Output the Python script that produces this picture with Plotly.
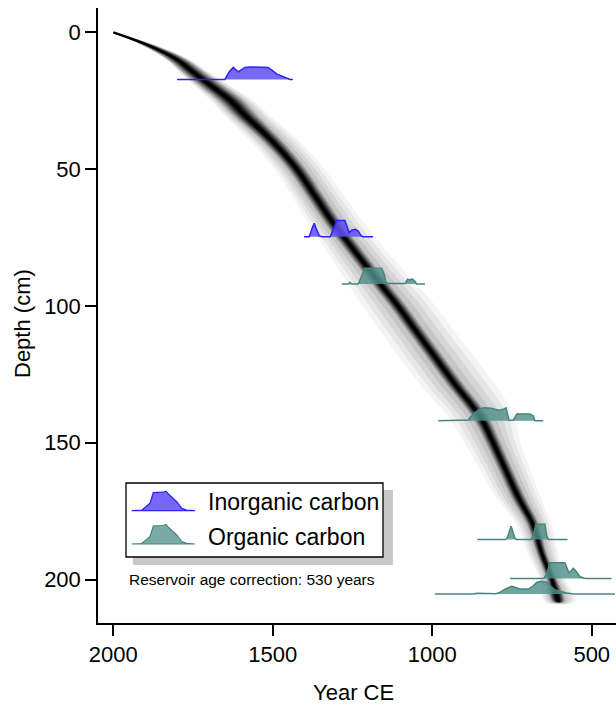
import plotly.graph_objects as go

# ---------------- data ----------------
x_tick_vals = [2000, 1500, 1000, 500]
x_tick_text = ["2000", "1500", "1000", "500"]
y_tick_vals = [0, 50, 100, 150, 200]
y_tick_text = ["0", "50", "100", "150", "200"]

# age-depth model: median age, dark-core spread and full (light halo) spread, in years
model_depth = [0, 5, 10, 15, 20, 25, 30, 40, 50, 60, 70, 80, 90, 100, 110, 120,
               130, 140, 150, 160, 170, 180, 190, 200, 208]
model_median = [2000, 1885, 1800, 1745, 1688, 1632, 1590, 1500, 1425, 1367, 1309,
                1243, 1177, 1108, 1046, 983, 920, 853, 809, 770, 730, 684, 658, 625, 605]
model_outer_young = [3, 22, 34, 45, 55, 62, 66, 68, 70, 72, 80, 88, 98, 110, 112, 112,
                     110, 100, 90, 80, 70, 52, 45, 38, 45]
model_outer_old = [3, 25, 40, 52, 62, 72, 78, 85, 88, 92, 97, 100, 110, 119, 120, 125,
                   125, 110, 85, 78, 70, 58, 52, 44, 55]
model_inner_young = [2, 18, 28, 32, 36, 38, 36, 30, 27, 26, 26, 26, 26, 26, 26, 26,
                     26, 25, 23, 22, 22, 19, 16, 16, 19]
model_inner_old = [2, 20, 30, 35, 38, 40, 38, 32, 29, 28, 27, 27, 27, 27, 27, 27,
                   27, 26, 23, 22, 22, 19, 16, 16, 19]

# calibrated dates
date_kind = ["Inorganic", "Inorganic", "Organic", "Organic", "Organic", "Organic", "Organic"]
date_depth = [17.2, 74.7, 92.0, 142.0, 185.4, 199.6, 205.3]
date_range_young = [1800, 1402, 1284, 981, 859, 756, 992]
date_range_old = [1437, 1186, 1023, 652, 576, 438, 427]

d1_years = [1650, 1637, 1624, 1609, 1587, 1571, 1540, 1515, 1503, 1487, 1471, 1456, 1446]
d1_dens = [0, 0.45, 0.73, 0.46, 0.73, 0.76, 0.76, 0.73, 0.57, 0.32, 0.2, 0.06, 0]
d2_years = [1386, 1377, 1370, 1364, 1354, 1345, 1320, 1311, 1300, 1274, 1267, 1261,
            1252, 1242, 1232, 1223, 1217]
d2_dens = [0, 0.5, 0.82, 0.5, 0.05, 0, 0, 0.4, 0.98, 0.98, 0.6, 0.25, 0.4, 0.45, 0.35, 0.05, 0]
d3_years = [1262, 1258, 1253, 1232, 1223, 1214, 1211, 1159, 1151, 1145, 1138, 1085,
            1078, 1070, 1063, 1054, 1049]
d3_dens = [0, 0.1, 0, 0, 0.4, 0.9, 0.96, 0.96, 0.6, 0.1, 0.03, 0.03, 0.29, 0.25, 0.32, 0.15, 0]
d4_years = [904, 887, 871, 856, 840, 814, 793, 777, 769, 765, 759, 746, 735, 694, 683, 678]
d4_dens = [0.02, 0.05, 0.45, 0.65, 0.79, 0.76, 0.65, 0.7, 0.79, 0.45, 0.02, 0.05, 0.41, 0.42, 0.3, 0]
d5_years = [770, 765, 753, 741, 736, 690, 683, 675, 647, 641, 636]
d5_dens = [0, 0.1, 0.81, 0.1, 0, 0, 0.3, 0.93, 0.93, 0.2, 0]
d6_years = [650, 641, 631, 584, 576, 572, 565, 558, 550, 537, 521]
d6_dens = [0, 0.3, 0.95, 0.95, 0.55, 0.35, 0.45, 0.61, 0.45, 0.1, 0]
d7_years = [870, 861, 809, 800, 788, 772, 751, 725, 699, 683, 673, 657, 641, 631, 615,
            594, 579, 563, 550]
d7_dens = [0, 0.05, 0.05, 0.02, 0.1, 0.3, 0.47, 0.3, 0.3, 0.5, 0.7, 0.77, 0.72, 0.5,
           0.25, 0.13, 0.06, 0.02, 0]

date_years = [d1_years, d2_years, d3_years, d4_years, d5_years, d6_years, d7_years]
date_dens = [d1_dens, d2_dens, d3_dens, d4_dens, d5_dens, d6_dens, d7_dens]

reservoir_note = "Reservoir age correction: 530 years"

# ---------------- style ----------------
W, H = 616, 707
ML, MR, MT, MB = 98, 0, 8, 84
X_RANGE = [2048, 424]
Y_RANGE = [215.9, -8.9]
FONT = "Arial, Liberation Sans, sans-serif"
DENS_SCALE = 6.0  # depth units for density 1

style = {
    "Inorganic": dict(fill="rgba(95,80,245,0.85)", line="rgb(45,35,240)"),
    "Organic": dict(fill="rgba(80,145,138,0.82)", line="rgb(72,132,126)"),
}
legend_fill = {"Inorganic": "rgb(118,104,250)", "Organic": "rgb(122,170,164)"}


def px_to_paper(px, py):
    pw = W - ML - MR
    ph = H - MT - MB
    return (px - ML) / pw, (H - MB - py) / ph


fig = go.Figure()


def add_band(young_err, old_err, alpha):
    upper = [m + e for m, e in zip(model_median, young_err)]
    lower = [m - e for m, e in zip(model_median, old_err)]
    fig.add_trace(go.Scatter(
        x=upper + lower[::-1],
        y=model_depth + model_depth[::-1],
        mode="lines", fill="toself", fillcolor=f"rgba(0,0,0,{alpha})",
        line=dict(width=0, shape="spline"), hoverinfo="skip", showlegend=False))


# light halo: between inner and outer spread
for t, a in zip([1.0, 0.75, 0.5, 0.25], [0.045, 0.055, 0.065, 0.08]):
    yo = [i + t * (o - i) for i, o in zip(model_inner_young, model_outer_young)]
    oo = [i + t * (o - i) for i, o in zip(model_inner_old, model_outer_old)]
    add_band(yo, oo, a)
# dark core
for f, a in zip([1.0, 0.75, 0.52, 0.32, 0.15], [0.22, 0.35, 0.5, 0.7, 0.85]):
    add_band([f * e for e in model_inner_young], [f * e for e in model_inner_old], a)

fig.add_trace(go.Scatter(x=model_median, y=model_depth, mode="lines",
                         line=dict(color="black", width=2.5, shape="spline"),
                         hoverinfo="skip", showlegend=False))

# calibrated date distributions
for kind, dep, y0, y1, yrs, dens in zip(date_kind, date_depth, date_range_young,
                                         date_range_old, date_years, date_dens):
    st = style[kind]
    xs = [y0] + yrs + [y1]
    ys = [dep] + [dep - DENS_SCALE * d for d in dens] + [dep]
    fig.add_trace(go.Scatter(x=xs, y=ys, mode="lines", fill="toself",
                             fillcolor=st["fill"], line=dict(color=st["line"], width=1.5),
                             hoverinfo="skip", showlegend=False))

# legend box (drawn as shapes)
shapes = []
sx0, sy0 = px_to_paper(133, 565)
sx1, sy1 = px_to_paper(393, 490)
shapes.append(dict(type="rect", xref="paper", yref="paper", x0=sx0, y0=sy0, x1=sx1, y1=sy1,
                   fillcolor="rgb(200,200,200)", line=dict(width=0), layer="above"))
bx0, by0 = px_to_paper(126, 557)
bx1, by1 = px_to_paper(383, 483)
shapes.append(dict(type="rect", xref="paper", yref="paper", x0=bx0, y0=by0, x1=bx1, y1=by1,
                   fillcolor="white", line=dict(color="black", width=1.3), layer="above"))

patch_profile = [(0, 0), (10, 0.5), (18.3, 7.4), (21.6, 18), (31.6, 18.5), (34.3, 19.5),
                 (36.6, 16.7), (45, 9), (50, 2.5), (55, 0.6), (63.3, 0)]
annotations = []
for kind, base_y, text_y, label in [("Inorganic", 510.7, 501.7, "Inorganic carbon"),
                                    ("Organic", 544.0, 536.7, "Organic carbon")]:
    pts = [px_to_paper(131.7 + dx, base_y - dy) for dx, dy in patch_profile]
    path = "M " + " L ".join(f"{px:.5f},{py:.5f}" for px, py in pts) + " Z"
    shapes.append(dict(type="path", xref="paper", yref="paper", path=path,
                       fillcolor=legend_fill[kind], line=dict(color=style[kind]["line"], width=1.2),
                       layer="above"))
    tx, ty = px_to_paper(206, text_y)
    annotations.append(dict(x=tx, y=ty, xref="paper", yref="paper", text=label,
                            showarrow=False, xanchor="left", yanchor="middle",
                            font=dict(family=FONT, size=23, color="black")))

tx, ty = px_to_paper(127, 579)
annotations.append(dict(x=tx, y=ty, xref="paper", yref="paper", text=reservoir_note,
                        showarrow=False, xanchor="left", yanchor="middle",
                        font=dict(family=FONT, size=15.5, color="black")))

# axis titles
tx, ty = px_to_paper(22, 324)
annotations.append(dict(x=tx, y=ty, xref="paper", yref="paper", text="Depth (cm)",
                        textangle=-90, showarrow=False, xanchor="center", yanchor="middle",
                        font=dict(family=FONT, size=22, color="black")))
tx, ty = px_to_paper(353, 692)
annotations.append(dict(x=tx, y=ty, xref="paper", yref="paper", text="Year CE",
                        showarrow=False, xanchor="center", yanchor="middle",
                        font=dict(family=FONT, size=22, color="black")))

axis_common = dict(showgrid=False, zeroline=False, showline=True, linecolor="black",
                   linewidth=1.5, ticks="outside", ticklen=11, tickwidth=1.5,
                   tickcolor="black", mirror=False,
                   tickfont=dict(family=FONT, size=22, color="black"))

fig.update_layout(
    width=W, height=H,
    margin=dict(l=ML, r=MR, t=MT, b=MB),
    paper_bgcolor="white", plot_bgcolor="white",
    xaxis=dict(range=X_RANGE, tickvals=x_tick_vals, ticktext=x_tick_text, **axis_common),
    yaxis=dict(range=Y_RANGE, tickvals=y_tick_vals, ticktext=y_tick_text, **axis_common),
    shapes=shapes, annotations=annotations, showlegend=False,
)

fig.write_html("out.html", config={"displayModeBar": False},
               post_script="document.body.style.margin='0';document.body.style.overflow='hidden';")
